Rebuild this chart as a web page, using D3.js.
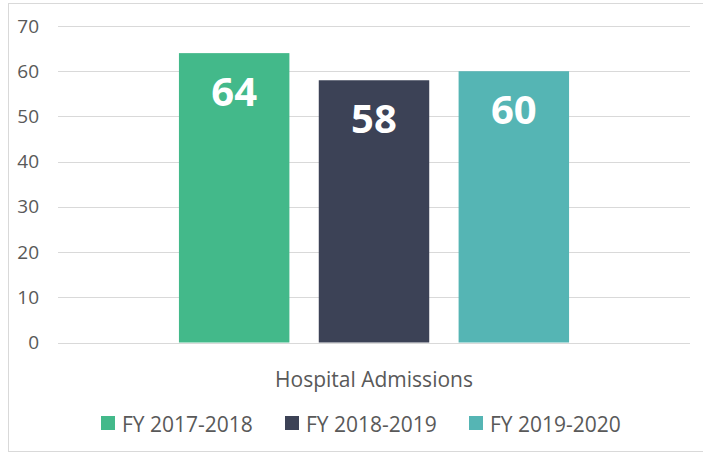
<!DOCTYPE html>
<html>
<head>
<meta charset="utf-8">
<script src="https://cdn.jsdelivr.net/npm/d3@7"></script>
<style>
  body { margin: 0; background: #fff; }
  text { font-family: "Open Sans", sans-serif; }
</style>
</head>
<body>
<svg class="chart"></svg>
<script>
var width = 703, height = 453;

// data
var categories = ["Hospital Admissions"];
var seriesNames = ["FY 2017-2018", "FY 2018-2019", "FY 2019-2020"];
var seriesValues = [64, 58, 60];
var seriesColors = ["#43b98a", "#3c4256", "#55b5b4"];
var yTicks = [0, 10, 20, 30, 40, 50, 60, 70];

var chart = d3.select(".chart")
    .attr("width", width)
    .attr("height", height);

// outer chart border
chart.append("rect")
    .attr("x", 8.5).attr("y", 3.5)
    .attr("width", 700).attr("height", 448)
    .attr("fill", "none")
    .attr("stroke", "#d9d9d9");

var plotLeft = 58, plotRight = 690, plotTop = 26, plotBottom = 342.5;

var y_scale = d3.scaleLinear()
    .domain([0, 70])
    .range([plotBottom, plotTop]);

var x0 = d3.scaleBand()
    .domain(categories)
    .range([plotLeft, plotRight])
    .paddingInner(0)
    .paddingOuter(0.31);

var x1 = d3.scaleBand()
    .domain(seriesNames)
    .range([0, x0.bandwidth()])
    .paddingInner(0.21);

// gridlines
chart.append("g")
    .selectAll("line")
    .data(yTicks)
    .enter().append("line")
    .attr("x1", plotLeft).attr("x2", plotRight)
    .attr("y1", function(d) { return Math.round(y_scale(d)) + 0.5; })
    .attr("y2", function(d) { return Math.round(y_scale(d)) + 0.5; })
    .attr("stroke", "#d9d9d9")
    .attr("stroke-width", 1);

// y axis labels
var y_axis = d3.axisLeft(y_scale)
    .tickValues(yTicks)
    .tickSize(0)
    .tickPadding(0);

var yg = chart.append("g")
    .attr("transform", "translate(39,0)")
    .call(y_axis);
yg.select(".domain").remove();
yg.selectAll("text")
    .attr("font-size", "19px")
    .attr("font-family", "Open Sans, sans-serif")
    .attr("fill", "#595959");

// bars
var group = chart.selectAll("g.cat")
    .data(categories)
    .enter().append("g")
    .attr("class", "cat")
    .attr("transform", function(d) { return "translate(" + x0(d) + ",0)"; });

var barData = seriesNames.map(function(s, i) {
    return { name: s, value: seriesValues[i], color: seriesColors[i] };
});

group.selectAll("rect")
    .data(barData)
    .enter().append("rect")
    .attr("x", function(d) { return x1(d.name); })
    .attr("y", function(d) { return y_scale(d.value); })
    .attr("width", x1.bandwidth())
    .attr("height", function(d) { return y_scale(0) - y_scale(d.value); })
    .attr("fill", function(d) { return d.color; });

group.selectAll("text.val")
    .data(barData)
    .enter().append("text")
    .attr("class", "val")
    .attr("x", function(d) { return x1(d.name) + x1.bandwidth() / 2; })
    .attr("y", function(d) { return y_scale(d.value) + 53; })
    .attr("text-anchor", "middle")
    .attr("font-size", "40px")
    .attr("font-weight", "bold")
    .attr("fill", "#fff")
    .text(function(d) { return d.value; });

// x axis category label
var x_axis = d3.axisBottom(x0).tickSize(0).tickPadding(0);
var xg = chart.append("g")
    .attr("transform", "translate(0,372)")
    .call(x_axis);
xg.select(".domain").remove();
xg.selectAll("text")
    .attr("font-size", "21px")
    .attr("font-family", "Open Sans, sans-serif")
    .attr("fill", "#595959");

// legend
var legendX = [101, 285, 469];
var legend = chart.selectAll("g.legend")
    .data(barData)
    .enter().append("g")
    .attr("class", "legend")
    .attr("transform", function(d, i) { return "translate(" + legendX[i] + ",416)"; });

legend.append("rect")
    .attr("width", 14).attr("height", 14)
    .attr("fill", function(d) { return d.color; });

legend.append("text")
    .attr("x", 21).attr("y", 16)
    .attr("font-size", "21px")
    .attr("fill", "#595959")
    .text(function(d) { return d.name; });
</script>
</body>
</html>
